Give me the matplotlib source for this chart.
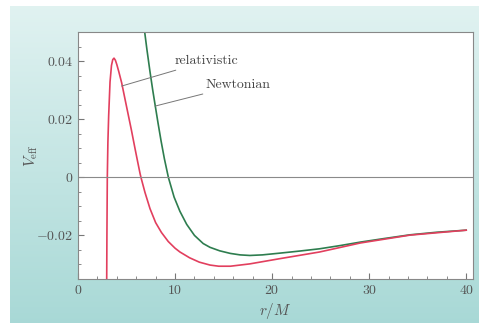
#Effective potential: relativistic vs Newtonian

import matplotlib.pyplot as plt
import numpy as np

plt.rcParams['font.family'] = ['cmr10', 'DejaVu Serif']
plt.rcParams['mathtext.fontset'] = 'cm'
plt.rcParams['axes.formatter.use_mathtext'] = True

#RELATIVISTIC CURVE
r_rel = [2.95, 2.98, 3.02, 3.08, 3.16, 3.3, 3.45, 3.58, 3.71, 3.85, 4.0, 4.2, 4.5,
         4.85, 5.19, 5.5, 5.88, 6.15, 6.4, 6.5, 6.9, 7.42, 8.0, 8.6, 9.3, 10.0,
         10.5, 11.5, 12.5, 13.6, 14.5, 15.7, 17.7, 20.8, 24.9, 29.1, 34.2, 40.0]
v_rel = [-0.040, -0.020, 0.0, 0.012, 0.0212, 0.0328, 0.0385, 0.0405, 0.0410,
         0.0403, 0.0388, 0.0364, 0.0325, 0.0268, 0.0213, 0.0163, 0.0098, 0.0053,
         0.0012, -0.0002, -0.0052, -0.0108, -0.0156, -0.0190, -0.0221, -0.0244,
         -0.0257, -0.0277, -0.0292, -0.0302, -0.0306, -0.0306, -0.0298, -0.0280,
         -0.0257, -0.0226, -0.0199, -0.0182]

#NEWTONIAN CURVE
r_newt = [6.6, 6.84, 7.1, 7.42, 7.7, 7.94, 8.25, 8.56, 8.9, 9.31, 9.9, 10.5, 11.2,
          12.0, 12.9, 13.6, 14.6, 15.7, 16.7, 17.7, 19.0, 20.8, 22.8, 24.9, 27.0,
          29.1, 31.5, 34.2, 37.0, 40.0]
v_newt = [0.057, 0.0508, 0.0440, 0.0363, 0.0300, 0.0250, 0.0186, 0.0125, 0.0064,
          0.0, -0.0068, -0.0117, -0.0162, -0.0200, -0.0228, -0.0241, -0.0253,
          -0.0262, -0.0267, -0.0269, -0.0267, -0.0261, -0.0254, -0.0246, -0.0235,
          -0.0223, -0.0211, -0.0198, -0.0189, -0.0182]

x_ticks = [0, 10, 20, 30, 40]
y_ticks = [-0.02, 0, 0.02, 0.04]
y_tick_labels = ['$-0.02$', '$0$', '$0.02$', '$0.04$']
x_tick_labels = ['$0$', '$10$', '$20$', '$30$', '$40$']

fig = plt.figure(figsize=(4.79, 3.23), dpi=100)

#teal gradient panel behind everything
bg = fig.add_axes([10/479, 0, 1 - 10/479, 1 - 6/323], zorder=-10)
grad = np.linspace(0, 1, 256).reshape(-1, 1)
top = np.array([0.88, 0.95, 0.945])
bottom = np.array([0.66, 0.85, 0.84])
img = top + (bottom - top) * grad[:, :, None]
bg.imshow(img, aspect='auto', extent=[0, 1, 0, 1])
bg.axis('off')

ax = fig.add_axes([78/479, 1 - 279/323, 395/479, 247/323])
ax.set_facecolor('white')

ax.plot(r_newt, v_newt, color='#2e7d4f', lw=1.2)
ax.plot(r_rel, v_rel, color='#e23f5e', lw=1.2)
ax.axhline(0, color='#8a8a8a', lw=0.8)

ax.set_xlim(0, 40.7)
ax.set_ylim(-0.035, 0.050)
ax.set_xticks(x_ticks)
ax.set_xticklabels(x_tick_labels)
ax.set_xticks(np.arange(0, 41, 2), minor=True)
ax.set_yticks(y_ticks)
ax.set_yticklabels(y_tick_labels)
ax.set_yticks(np.arange(-0.035, 0.0501, 0.005), minor=True)
ax.tick_params(which='both', direction='in', colors='#777777', labelcolor='#555555',
               labelsize=10)
ax.tick_params(which='major', length=4)
ax.tick_params(which='minor', length=2)
for s in ax.spines.values():
    s.set_color('#888888')
    s.set_linewidth(0.8)

ax.set_xlabel('$r/M$', fontsize=11, color='#555555')
ax.set_ylabel(r'$V_{\rm eff}$', fontsize=11, color='#555555')
ax.xaxis.set_label_coords(0.5, -0.09)
ax.yaxis.set_label_coords(-0.095, 0.5)

#labels with leader lines
ax.annotate('relativistic', xy=(4.5, 0.0314), xytext=(9.9, 0.0399),
            fontsize=10, color='#444444', va='center',
            arrowprops=dict(arrowstyle='-', color='#777777', lw=0.7,
                            shrinkA=0, shrinkB=0))
ax.annotate('Newtonian', xy=(7.94, 0.0245), xytext=(13.1, 0.0317),
            fontsize=10, color='#444444', va='center',
            arrowprops=dict(arrowstyle='-', color='#777777', lw=0.7,
                            shrinkA=0, shrinkB=0))

fig.savefig('out.png', dpi=100)
